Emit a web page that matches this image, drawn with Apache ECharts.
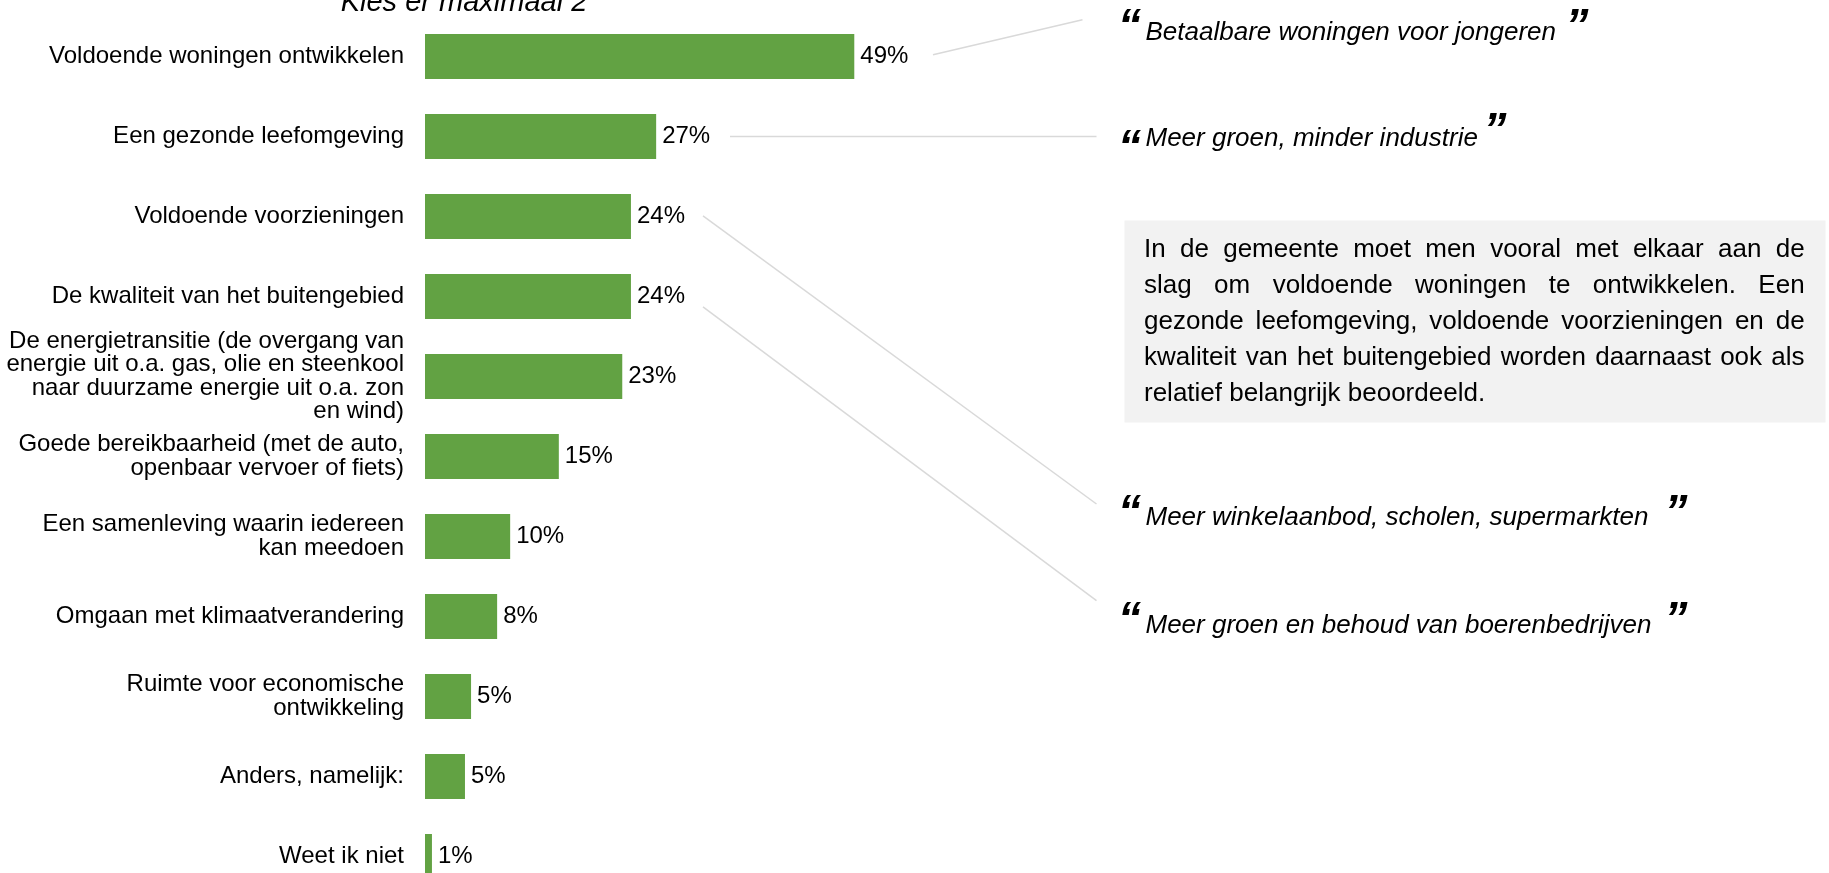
<!DOCTYPE html>
<html>
<head>
<meta charset="utf-8">
<script src="https://cdn.jsdelivr.net/npm/echarts@6.0.0/dist/echarts.min.js"></script>
<style>
html,body{margin:0;padding:0;background:#ffffff;}
#main{width:1829px;height:873px;}
</style>
</head>
<body>
<div id="main"></div>
<script>
// ---- data ----
const categories = [
  'Voldoende woningen ontwikkelen',
  'Een gezonde leefomgeving',
  'Voldoende voorzieningen',
  'De kwaliteit van het buitengebied',
  'De energietransitie (de overgang van\nenergie uit o.a. gas, olie en steenkool\nnaar duurzame energie uit o.a. zon\nen wind)',
  'Goede bereikbaarheid (met de auto,\nopenbaar vervoer of fiets)',
  'Een samenleving waarin iedereen\nkan meedoen',
  'Omgaan met klimaatverandering',
  'Ruimte voor economische\nontwikkeling',
  'Anders, namelijk:',
  'Weet ik niet'
];
const values = [49.4, 26.6, 23.7, 23.7, 22.7, 15.4, 9.8, 8.3, 5.3, 4.6, 0.8];
const subtitle = 'Kies er maximaal 2';
const quotes = [
  'Betaalbare woningen voor jongeren',
  'Meer groen, minder industrie',
  'Meer winkelaanbod, scholen, supermarkten',
  'Meer groen en behoud van boerenbedrijven'
];
const summaryLines = [
  'In de gemeente moet men vooral met elkaar aan de',
  'slag om voldoende woningen te ontwikkelen. Een',
  'gezonde leefomgeving, voldoende voorzieningen en de',
  'kwaliteit van het buitengebied worden daarnaast ook als',
  'relatief belangrijk beoordeeld.'
];

// ---- layout / style ----
const FONT = '"Liberation Sans", Arial, sans-serif';
const GREEN = '#62a243';
const LINE = '#d9d9d9';

const chart = echarts.init(document.getElementById('main'), null, {renderer: 'canvas'});

const graphics = [];

// subtitle (cut at top)
graphics.push({
  type: 'text', x: 464, y: 3,
  style: {text: subtitle, font: 'italic 29px ' + FONT, fill: '#000', align: 'center', verticalAlign: 'middle'}
});

// leader lines
const leaders = [
  [933, 54.8, 1082.5, 19.8],
  [730, 136.5, 1096.5, 136.5],
  [703, 215.8, 1096.5, 504],
  [703, 306.8, 1096.5, 600.7]
];
leaders.forEach(l => graphics.push({
  type: 'line', shape: {x1: l[0], y1: l[1], x2: l[2], y2: l[3]},
  style: {stroke: LINE, lineWidth: 1.5}
}));

// quotes
const quoteTextY = [32.5, 139, 517.5, 626];
const openQuoteY = [5.6, 126, 491, 598.5];
const closeQuote = [[1565.5, 5.6], [1483.5, 109], [1664.5, 491], [1664.5, 598.5]];
quotes.forEach((q, i) => {
  graphics.push({
    type: 'text', x: 1145.5, y: quoteTextY[i],
    style: {text: q, font: 'italic 26px ' + FONT, fill: '#000', align: 'left', verticalAlign: 'middle'}
  });
  graphics.push({
    type: 'text', x: 1118, y: openQuoteY[i],
    style: {text: '\u201C', font: 'italic bold 46px ' + FONT, fill: '#000', align: 'left', verticalAlign: 'top'}
  });
  graphics.push({
    type: 'text', x: closeQuote[i][0], y: closeQuote[i][1],
    style: {text: '\u201D', font: 'italic bold 46px ' + FONT, fill: '#000', align: 'left', verticalAlign: 'top'}
  });
});

// summary box
graphics.push({
  type: 'rect', shape: {x: 1124.5, y: 220.5, width: 701, height: 202},
  style: {fill: '#f2f2f2'}
});
const measure = document.createElement('canvas').getContext('2d');
const boxFont = '26px ' + FONT;
measure.font = boxFont;
const textLeft = 1144, textWidth = 660.6, firstLineY = 249.5, lineGap = 36.2;
summaryLines.forEach((line, i) => {
  const y = firstLineY + i * lineGap;
  if (i === summaryLines.length - 1) {
    graphics.push({type: 'text', x: textLeft, y: y,
      style: {text: line, font: boxFont, fill: '#000', align: 'left', verticalAlign: 'middle'}});
    return;
  }
  const words = line.split(' ');
  const widths = words.map(w => measure.measureText(w).width);
  const total = widths.reduce((a, b) => a + b, 0);
  const gap = (textWidth - total) / (words.length - 1);
  let x = textLeft;
  words.forEach((w, j) => {
    graphics.push({type: 'text', x: x, y: y,
      style: {text: w, font: boxFont, fill: '#000', align: 'left', verticalAlign: 'middle'}});
    x += widths[j] + gap;
  });
});

chart.setOption({
  animation: false,
  backgroundColor: '#ffffff',
  grid: {left: 425, top: 16.5, width: 434.5, height: 880, containLabel: false, outerBoundsMode: 'none'},
  xAxis: {
    type: 'value', min: 0, max: 50, show: false,
    splitLine: {show: false}
  },
  yAxis: {
    type: 'category', data: categories, inverse: true,
    axisLine: {show: false}, axisTick: {show: false}, splitLine: {show: false},
    axisLabel: {
      fontFamily: FONT, fontSize: 24, lineHeight: 23.5, color: '#000',
      margin: 21, align: 'right', interval: 0
    }
  },
  series: [{
    type: 'bar', data: values, barWidth: 45,
    itemStyle: {color: GREEN},
    label: {
      show: true, position: 'right', distance: 6,
      fontFamily: FONT, fontSize: 24, color: '#000',
      formatter: p => Math.round(p.value) + '%'
    }
  }],
  graphic: graphics
});
</script>
</body>
</html>
